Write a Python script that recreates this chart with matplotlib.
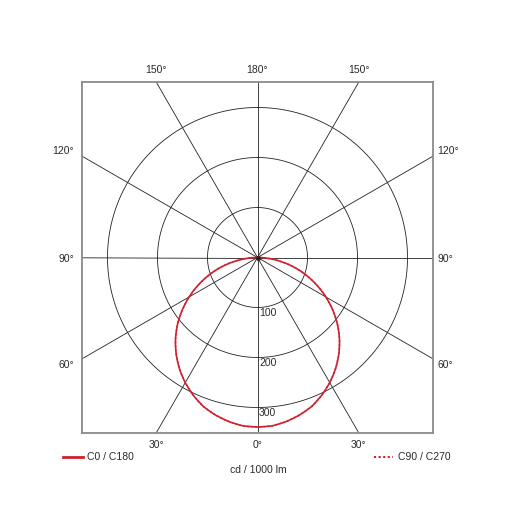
import numpy as np
import matplotlib
matplotlib.use("Agg")
import matplotlib.pyplot as plt

plt.rcParams['font.family'] = ['Liberation Sans', 'DejaVu Sans']
plt.rcParams['text.color'] = '#2a2a2a'

# Data (cd / 1000 lm), gamma angle in degrees from nadir
gamma = [0, 5, 10, 15, 20, 25, 30, 35, 40, 45, 50, 55, 60, 65, 70, 75, 80, 85, 90]
c0_c180 = [339, 338, 333, 326, 317, 304, 289, 272, 253, 232, 209, 184, 158, 131, 104, 77, 49, 23, 0]
c90_c270 = [339, 338, 333, 326, 317, 304, 289, 272, 253, 232, 209, 184, 158, 131, 104, 77, 49, 23, 0]
ring_values = [100, 200, 300]
spoke_angles = [0, 30, 60, 90, 120, 150, 180, 210, 240, 270, 300, 330]
edge_labels = ["150°", "180°", "150°", "120°", "90°", "60°", "30°", "0°", "30°", "120°", "90°", "60°"]
legend_labels = ["C0 / C180", "C90 / C270"]
unit_label = "cd / 1000 lm"

RED = "#d0202e"
LIM = 351

fig = plt.figure(figsize=(5.15, 5.15), dpi=100)
ax = fig.add_axes([82 / 515, 82 / 515, 351 / 515, 351 / 515])
ax.set_xlim(-LIM, LIM)
ax.set_ylim(-LIM, LIM)
ax.set_aspect('equal')
ax.set_xticks([])
ax.set_yticks([])
for s in ax.spines.values():
    s.set_color("#8a8a8a")
    s.set_linewidth(1.3)

# rings
t = np.linspace(0, 2 * np.pi, 400)
for r in ring_values:
    ax.plot(r * np.sin(t), r * np.cos(t), color="#222222", lw=0.6, zorder=1)
    ax.text(3, -r - 12, str(r), fontsize=7.5, ha='left', va='center', zorder=3)

# spokes
for a in spoke_angles:
    ar = np.deg2rad(a)
    ax.plot([0, 1000 * np.sin(ar)], [0, -1000 * np.cos(ar)], color="#222222", lw=0.6, zorder=1)

# curves (symmetric left/right), drawn smoothly between the read points in polar space
g = np.array(gamma, dtype=float)
full_g = np.concatenate([-g[::-1], g[1:]])
v1 = np.array(c0_c180, dtype=float)
v2 = np.array(c90_c270, dtype=float)
full1 = np.concatenate([v1[::-1], v1[1:]])
full2 = np.concatenate([v2[::-1], v2[1:]])
dense = np.linspace(full_g[0], full_g[-1], 721)
r1 = np.interp(dense, full_g, full1)
r2 = np.interp(dense, full_g, full2)
dr = np.deg2rad(dense)
ax.plot(r2 * np.sin(dr), -r2 * np.cos(dr), color=RED, lw=1.1, ls=':', zorder=2)
ax.plot(r1 * np.sin(dr), -r1 * np.cos(dr), color=RED, lw=1.2, zorder=3)
ax.plot([0], [0], 'o', color="#222222", ms=2.5, zorder=4)

fs = 7.5
tx = LIM * np.tan(np.deg2rad(30))
# top labels
ax.text(-tx, LIM + 24, edge_labels[0], fontsize=fs, ha='center', va='center', clip_on=False)
ax.text(0, LIM + 24, edge_labels[1], fontsize=fs, ha='center', va='center', clip_on=False)
ax.text(tx, LIM + 24, edge_labels[2], fontsize=fs, ha='center', va='center', clip_on=False)
# bottom labels
ax.text(-tx, -LIM - 24, edge_labels[6], fontsize=fs, ha='center', va='center', clip_on=False)
ax.text(0, -LIM - 24, edge_labels[7], fontsize=fs, ha='center', va='center', clip_on=False)
ax.text(tx, -LIM - 24, edge_labels[8], fontsize=fs, ha='center', va='center', clip_on=False)
# side labels
for side, ha, xx in [(-1, 'right', -LIM - 16), (1, 'left', LIM + 9)]:
    ax.text(xx, 214, edge_labels[3], fontsize=fs, ha=ha, va='center', clip_on=False)
    ax.text(xx, -3, edge_labels[4], fontsize=fs, ha=ha, va='center', clip_on=False)
    ax.text(xx, -215, edge_labels[5], fontsize=fs, ha=ha, va='center', clip_on=False)

# legend
fig.add_artist(plt.Line2D([63 / 515, 83 / 515], [1 - 457 / 515] * 2, color=RED, lw=2.0))
fig.text(87 / 515, 1 - 457 / 515, legend_labels[0], fontsize=fs, ha='left', va='center')
fig.add_artist(plt.Line2D([374 / 515, 393 / 515], [1 - 457 / 515] * 2, color=RED, lw=1.5, ls=(0, (1, 1.2))))
fig.text(398 / 515, 1 - 457 / 515, legend_labels[1], fontsize=fs, ha='left', va='center')
fig.text(258 / 515, 1 - 470 / 515, unit_label, fontsize=fs, ha='center', va='center')

fig.savefig("out.png", dpi=100, facecolor='white')
